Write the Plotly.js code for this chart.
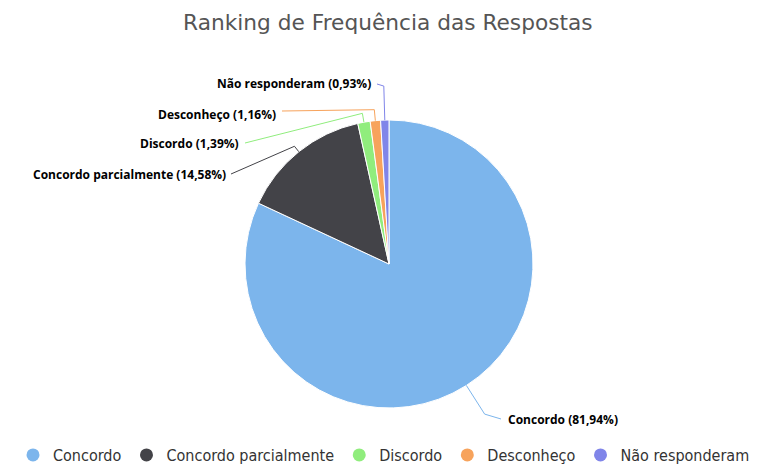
<!DOCTYPE html>
<html>
<head>
<meta charset="utf-8">
<script src="https://cdn.plot.ly/plotly-3.0.1.min.js"></script>
<style>html,body{margin:0;padding:0;background:#fff;}#chart{width:768px;height:472px;}</style>
</head>
<body>
<div id="chart"></div>
<script>
const categories = ['Concordo', 'Concordo parcialmente', 'Discordo', 'Desconheço', 'Não responderam'];
const values = [81.94, 14.58, 1.39, 1.16, 0.93];
const colors = ['#7cb5ec', '#434348', '#90ed7d', '#f7a35c', '#8085e9'];
const titleText = 'Ranking de Frequência das Respostas';

const W = 768, H = 472;
// pie geometry (pixels)
const CX = 389, CY = 264, R = 144;

// label layout: side, text edge x, text centre y, radial lead length (pixels)
const labelLayout = [
  {side: 'right', x: 506, y: 419, lead: 34, end: [501, 419]},
  {side: 'left', x: 228, y: 174, lead: 7, end: [231, 174]},
  {side: 'left', x: 241, y: 143, lead: 9, end: [245, 143]},
  {side: 'left', x: 278, y: 114, lead: 11, end: [282, 111]},
  {side: 'left', x: 373, y: 84, lead: 34, end: [377, 84]}
];

const px = x => x / W;
const py = y => 1 - y / H;

const total = values.reduce((a, b) => a + b, 0);
const fmt = v => (v / total * 100).toFixed(2).replace('.', ',');

const annotations = [];
const shapes = [];
let cum = 0;
values.forEach((v, i) => {
  const mid = (cum + v / 2) / total * 2 * Math.PI; // clockwise from top
  cum += v;
  const dx = Math.sin(mid), dy = -Math.cos(mid);
  const ax = CX + R * dx, ay = CY + R * dy;
  const L = labelLayout[i];
  const bx = CX + (R + L.lead) * dx, by = CY + (R + L.lead) * dy;
  const path = 'M' + px(ax) + ',' + py(ay) + ' L' + px(bx) + ',' + py(by) + ' L' + px(L.end[0]) + ',' + py(L.end[1]);
  shapes.push({type: 'path', xref: 'paper', yref: 'paper', path: path,
    line: {color: colors[i], width: 1}});
  annotations.push({
    xref: 'paper', yref: 'paper', x: px(L.x), y: py(L.y),
    xanchor: L.side === 'left' ? 'right' : 'left', yanchor: 'middle',
    text: '<b>' + categories[i] + ' (' + fmt(v) + '%)</b>',
    showarrow: false,
    font: {family: 'Open Sans, DejaVu Sans, sans-serif', size: 12, color: '#000'}
  });
});

const pieTrace = {
  type: 'pie',
  labels: categories,
  values: values,
  sort: false,
  direction: 'clockwise',
  rotation: 0,
  textinfo: 'none',
  hoverinfo: 'label+percent',
  showlegend: false,
  marker: {colors: colors, line: {color: '#ffffff', width: 1}},
  domain: {x: [px(CX - R), px(CX + R)], y: [py(CY + R), py(CY - R)]}
};

const legendTraces = categories.map((c, i) => ({
  type: 'scatter', mode: 'markers', x: [null], y: [null], name: c,
  marker: {symbol: 'circle', size: 13, color: colors[i]},
  hoverinfo: 'skip', showlegend: true
}));

const layout = {
  width: W, height: H,
  margin: {l: 0, r: 0, t: 0, b: 0},
  paper_bgcolor: '#fff', plot_bgcolor: '#fff',
  title: {text: titleText, x: 0.505, xanchor: 'center', y: 1 - 22 / H, yanchor: 'middle',
    font: {family: 'DejaVu Sans, sans-serif', size: 21.7, color: '#555'}},
  xaxis: {visible: false}, yaxis: {visible: false},
  showlegend: true,
  legend: {orientation: 'h', x: 0.5, xanchor: 'center', y: 0, yanchor: 'bottom',
    font: {family: 'DejaVu Sans Condensed, DejaVu Sans, sans-serif', size: 16, color: '#333'},
    itemclick: false, itemdoubleclick: false},
  annotations: annotations,
  shapes: shapes
};

Plotly.newPlot('chart', [pieTrace].concat(legendTraces), layout, {displayModeBar: false, staticPlot: true});
</script>
</body>
</html>
